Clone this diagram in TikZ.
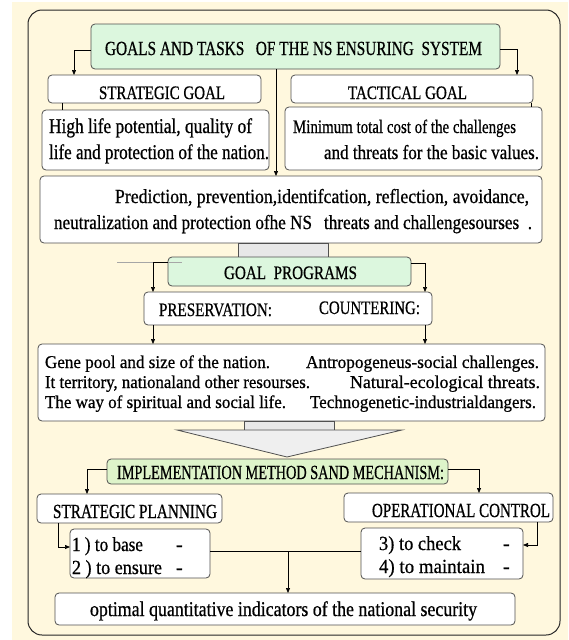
\documentclass[tikz,border=0pt]{standalone}
\usepackage{fontspec}
\setmainfont{Liberation Serif}[FakeBold=0.7]
\usepackage{graphicx}
\usetikzlibrary{arrows.meta}
\definecolor{cream}{RGB}{255,248,222}
\definecolor{mint}{RGB}{220,247,222}
\definecolor{limegreen}{RGB}{222,244,202}
\definecolor{boxline}{RGB}{80,80,80}
\definecolor{connfill}{RGB}{232,232,232}
\newcommand\fw[2]{\resizebox{#1pt}{\height}{#2}}
\newcommand\fs[1]{\fontsize{#1}{#1}\selectfont}
\newcommand\placebox[6]{\node[#6, minimum width={#4pt-#2pt}, minimum height={#5pt-#3pt}] (#1) at ({(#2+#4)/2},{(#3+#5)/2}) {};}
\tikzset{
  box/.style={draw=boxline, line width=0.8pt, rounded corners=4pt, fill=white, inner sep=0pt, outer sep=0pt},
  greenbox/.style={box, fill=mint},
  limebox/.style={box, fill=limegreen},
  framebox/.style={draw=black!85, line width=1pt, rounded corners=14pt, fill=cream, inner sep=0pt, outer sep=0pt},
  connbox/.style={draw=boxline, line width=0.8pt, fill=connfill, inner sep=0pt, outer sep=0pt},
  lbl/.style={inner sep=0pt, outer sep=0pt, text=black},
  arr/.style={draw=black, line width=0.7pt, -{Triangle[length=5pt,width=4pt]}},
  ln/.style={draw=black, line width=0.6pt},
}
\begin{document}
\begin{tikzpicture}[x=1pt,y=-1pt]
\useasboundingbox (0,0) rectangle (568,640);
\fill[cream] (12,2) rectangle (568,640);
\placebox{outer}{28}{10}{560}{635}{framebox}
% boxes
\placebox{title}{91}{24}{500}{69}{greenbox}
\placebox{sg}{48}{75}{261}{103}{box}
\placebox{tg}{291}{75}{533}{103}{box}
\placebox{hl}{42}{110}{269}{170}{box}
\placebox{mt}{285}{107}{542}{170}{box}
\placebox{pr}{40}{176}{542}{243}{box}
\placebox{gra}{238}{243}{328}{257}{connbox}
\placebox{gp}{168}{257}{411}{286}{greenbox}
\placebox{ps}{144}{292}{432}{325}{box}
\placebox{bb}{38}{344}{545}{421}{box}
\placebox{grb}{244}{421}{334}{430}{connbox}
\draw[draw=boxline, line width=0.8pt, fill=connfill!70!white] (177,430) -- (402,430) -- (287,457) -- cycle;
\placebox{im}{107}{459}{448}{484}{limebox}
\placebox{sp}{37}{494}{222}{523}{box}
\placebox{oc}{344}{493}{553}{522}{box}
\placebox{b12}{70}{529}{210}{578}{box}
\placebox{b34}{361}{528}{523}{579}{box}
\placebox{bt}{55}{593}{515}{625}{box}
% texts
\node[lbl, anchor=base west] (ttitle) at (105,55) {\fs{20}\fw{377}{GOALS AND TASKS\ \ \ OF THE NS ENSURING\ \ SYSTEM}};
\node[lbl, anchor=base west] (tsg) at (99,99) {\fs{19}\fw{126}{STRATEGIC GOAL}};
\node[lbl, anchor=base west] (ttg) at (348,99) {\fs{19}\fw{119}{TACTICAL GOAL}};
\node[lbl, anchor=base west] (thl1) at (49,133) {\fs{21}\fw{203}{High life potential, quality of}};
\node[lbl, anchor=base west] (thl2) at (49,159) {\fs{21}\fw{220}{life and protection of the nation.}};
\node[lbl, anchor=base west] (tmt1) at (293,133) {\fs{19}\fw{223}{Minimum total cost of the challenges}};
\node[lbl, anchor=base east] (tmt2) at (539,159) {\fs{20}\fw{215}{and threats for the basic values.}};
\node[lbl, anchor=base west] (tpr1) at (115,203) {\fs{20}\fw{414}{Prediction, prevention,identifcation, reflection, avoidance,}};
\node[lbl, anchor=base west] (tpr2) at (54,229) {\fs{20}\fw{478}{neutralization and protection ofhe NS\hspace{14pt}threats and challengesourses\hspace{10pt}.}};
\node[lbl, anchor=base west] (tgp) at (224,279) {\fs{19}\fw{133}{GOAL\ \ PROGRAMS}};
\node[lbl, anchor=base west] (tps1) at (159,316) {\fs{19}\fw{113}{PRESERVATION:}};
\node[lbl, anchor=base west] (tps2) at (319,314) {\fs{19}\fw{101}{COUNTERING:}};
\node[lbl, anchor=base west] (tbl1) at (45,368) {\fs{18}\fw{225}{Gene pool and size of the nation.}};
\node[lbl, anchor=base west] (tbl2) at (45,388) {\fs{18}\fw{265}{It territory, nationaland other resourses.}};
\node[lbl, anchor=base west] (tbl3) at (45,408) {\fs{18}\fw{241}{The way of spiritual and social life.}};
\node[lbl, anchor=base east] (tbr1) at (539,368) {\fs{18}\fw{233}{Antropogeneus-social challenges.}};
\node[lbl, anchor=base east] (tbr2) at (540,388) {\fs{18}\fw{190}{Natural-ecological threats.}};
\node[lbl, anchor=base east] (tbr3) at (536,408) {\fs{18}\fw{226}{Technogenetic-industrialdangers.}};
\node[lbl, anchor=base west] (tim) at (117,479) {\fs{20}\fw{327}{IMPLEMENTATION METHOD SAND MECHANISM:}};
\node[lbl, anchor=base west] (tsp) at (53,518) {\fs{20}\fw{164}{STRATEGIC PLANNING}};
\node[lbl, anchor=base west] (toc) at (372,517) {\fs{20}\fw{178}{OPERATIONAL CONTROL}};
\node[lbl, anchor=base west] (t1) at (72,551) {\fs{20}\fw{71}{1 ) to base}};
\node[lbl, anchor=base west] (t1d) at (176,551) {\fs{20}-};
\node[lbl, anchor=base west] (t2) at (72,574) {\fs{20}\fw{90}{2 ) to ensure}};
\node[lbl, anchor=base west] (t2d) at (176,574) {\fs{20}-};
\node[lbl, anchor=base west] (t3) at (379,550) {\fs{20}\fw{82}{3)\ to check}};
\node[lbl, anchor=base west] (t3d) at (503,550) {\fs{20}-};
\node[lbl, anchor=base west] (t4) at (379,573) {\fs{20}\fw{106}{4)\ to maintain}};
\node[lbl, anchor=base west] (t4d) at (503,573) {\fs{20}-};
\node[lbl, anchor=base west] (tbt) at (90,616) {\fs{21}\fw{387}{optimal quantitative indicators of the national security}};
% connectors
\coordinate (c74) at (74,0);
\coordinate (c517) at (517,0);
\coordinate (c276) at (276,0);
\coordinate (c62) at (62,0);
\coordinate (c531) at (531,0);
\coordinate (c153) at (153,0);
\coordinate (c424) at (425,0);
\coordinate (c87) at (87,0);
\coordinate (c479) at (479,0);
\coordinate (c58) at (58,0);
\coordinate (c537) at (537,0);
\coordinate (mid) at (288,551.5);
\coordinate (fa) at (117,262);
\coordinate (fb) at (182,262);
\draw[arr] ([yshift=-3.5pt]title.west) -| (sg.north -| c74);
\draw[arr] ([yshift=-2.5pt]title.east) -| (tg.north -| c517);
\draw[arr] (title.south -| c276) -- (pr.north -| c276);
\draw[ln] (sg.south -| c62) -- (hl.north -| c62);
\draw[ln] (tg.south -| c531) -- (mt.north -| c531);
\draw[draw=black!35, line width=0.5pt] (fa) -- (fb);
\draw[arr] ([yshift=9.5pt]gp.west) -| (ps.north -| c153);
\draw[arr] ([yshift=8.5pt]gp.east) -| (ps.north -| c424);
\draw[arr] (ps.south -| c153) -- (bb.north -| c153);
\draw[arr] (ps.south -| c424) -- (bb.north -| c424);
\draw[arr] ([yshift=2.5pt]im.west) -| (sp.north -| c87);
\draw[arr] ([yshift=2.5pt]im.east) -| (oc.north -| c479);
\draw[arr] (sp.south -| c58) |- ([yshift=6.5pt]b12.west);
\draw[arr] (oc.south -| c537) |- ([yshift=8.5pt]b34.east);
\draw[ln] ([yshift=2pt]b12.east) -- ([yshift=2pt]b34.west);
\draw[arr] (mid) -- (bt.north -| mid);
\end{tikzpicture}
\end{document}
